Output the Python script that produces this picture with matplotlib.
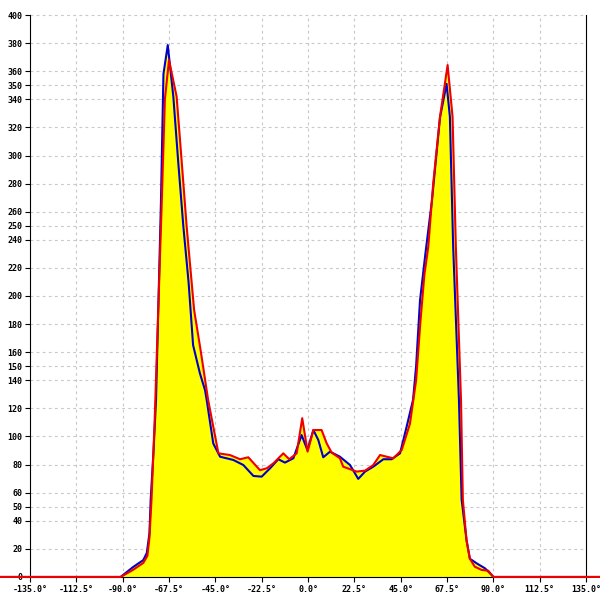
import numpy as np
import matplotlib
matplotlib.use("Agg")
import matplotlib.pyplot as plt

# angle (deg) / value pairs
blue_x = [-150, -91, -85, -80, -78.3, -77, -76.4, -75, -73.8, -71.4, -70.2, -68.1, -65.4, -63,
          -60.5, -58, -55.8, -52.5, -50, -49.2, -46, -42.7, -36.3, -31.4, -26.5, -22.5, -18.4,
          -14.4, -11.2, -7.1, -3.1, -0.3, 2.6, 5, 7.4, 10.7, 15.5, 20.4, 24.4, 27.7, 31.7, 36.6,
          40.6, 44.7, 47.9, 51, 52.5, 54.4, 57, 60.2, 64.1, 67.3, 68.9, 70.5, 73.3, 74.6, 77,
          78.6, 81.9, 85.9, 89.2, 90, 150]
blue_y = [0, 0, 7, 12, 17, 31, 55, 90, 126, 268, 358, 378.6, 342, 295,
          249, 210, 165, 145, 133, 126, 95, 85.6, 83.3, 79.7, 71.9, 71.4, 77.4,
          83.8, 81.4, 84.5, 101, 90.4, 104.6, 97.5, 85.2, 89.2, 85.6, 79.7, 69.8, 75, 78.5, 83.8,
          83.8, 88, 107, 126, 150, 197, 230, 268, 327, 351, 327.6, 235, 126, 55, 26,
          13, 9.7, 6.2, 1.4, 0, 0]

red_x = [-150, -91, -85, -80, -78, -77, -76, -74.5, -71, -69.5, -67.5, -63.8, -61.3, -58.9,
         -55.3, -52, -48.5, -43.5, -37.9, -33, -29, -23.3, -20, -16.8, -12, -9.1, -5.5, -2.8,
         -0.2, 2.6, 6.6, 9.1, 11.5, 15.5, 17.1, 23.6, 27.7, 31.7, 35, 38.2, 41.4, 45.5, 49.5,
         52.5, 54.5, 56.5, 58.4, 60.8, 64.1, 67.8, 70.2, 71.8, 74.3, 75.2, 77, 78.6, 81, 84.3,
         87.5, 90, 150]
red_y = [0, 0, 5, 10, 15, 28, 55, 110, 268, 340, 368, 342, 295, 249,
         190, 160, 126, 88, 86.8, 83.8, 85.2, 76, 77.4, 80.9, 88, 83.8, 88, 113,
         89.2, 104.6, 104.6, 95, 88.5, 84.5, 78.5, 75, 75.7, 79.7, 86.8, 85.6, 84.5, 90.4, 109,
         140, 180, 215, 235, 280, 327.6, 364.4, 327.6, 235, 126, 55, 26, 13, 7.3, 5,
         4.5, 0, 0]

x_ticks = [-135, -112.5, -90, -67.5, -45, -22.5, 0, 22.5, 45, 67.5, 90, 112.5, 135]
y_ticks = [0, 20, 40, 50, 60, 80, 100, 120, 140, 150, 160, 180, 200, 220, 240, 250, 260,
           280, 300, 320, 340, 350, 360, 380, 400]

fig = plt.figure(figsize=(6, 6), dpi=100)
ax = fig.add_axes([0, 0, 1, 1])
ax.set_xlim(-149.57, 141.8)
ax.set_ylim(-16.4, 410.7)

# grid only inside the -135..135 / 0..400 frame
grid_kw = dict(colors="#c8c8c8", linewidth=0.8, linestyles=(0, (2.5, 3)), zorder=0)
ax.hlines(y_ticks[1:], -135, 134, **grid_kw)
ax.vlines(x_ticks[1:-1], 0, 400, **grid_kw)

# yellow area under the envelope of both curves
fill_x = np.union1d(blue_x, red_x)
fill_y = np.maximum(np.interp(fill_x, blue_x, blue_y), np.interp(fill_x, red_x, red_y))
ax.fill_between(fill_x, 0, fill_y, color="#ffff00", linewidth=0, zorder=1)

ax.plot(blue_x, blue_y, color="#0000cc", linewidth=1.5, zorder=3)
ax.plot(red_x, red_y, color="#ee0000", linewidth=1.5, zorder=3.1)

ax.spines["top"].set_visible(False)
ax.spines["left"].set_position(("data", -135))
ax.spines["left"].set_bounds(0, 400)
ax.spines["right"].set_position(("data", 135))
ax.spines["right"].set_bounds(0, 400)
ax.spines["bottom"].set_position(("data", 0))
ax.spines["bottom"].set_bounds(-135, 135)
ax.yaxis.set_ticks_position("left")
ax.xaxis.set_ticks_position("bottom")

ax.set_xticks(x_ticks)
ax.set_xticklabels([f"{v:.1f}°" for v in x_ticks])
ax.set_yticks(y_ticks)
ax.set_yticklabels([str(v) for v in y_ticks])
ax.tick_params(axis="both", length=3.5, width=0.8, pad=2, labelsize=6, colors="black")
for lab in ax.get_xticklabels() + ax.get_yticklabels():
    lab.set_fontfamily("DejaVu Sans Mono")
    lab.set_fontweight("bold")

fig.savefig("out.png", dpi=100)
